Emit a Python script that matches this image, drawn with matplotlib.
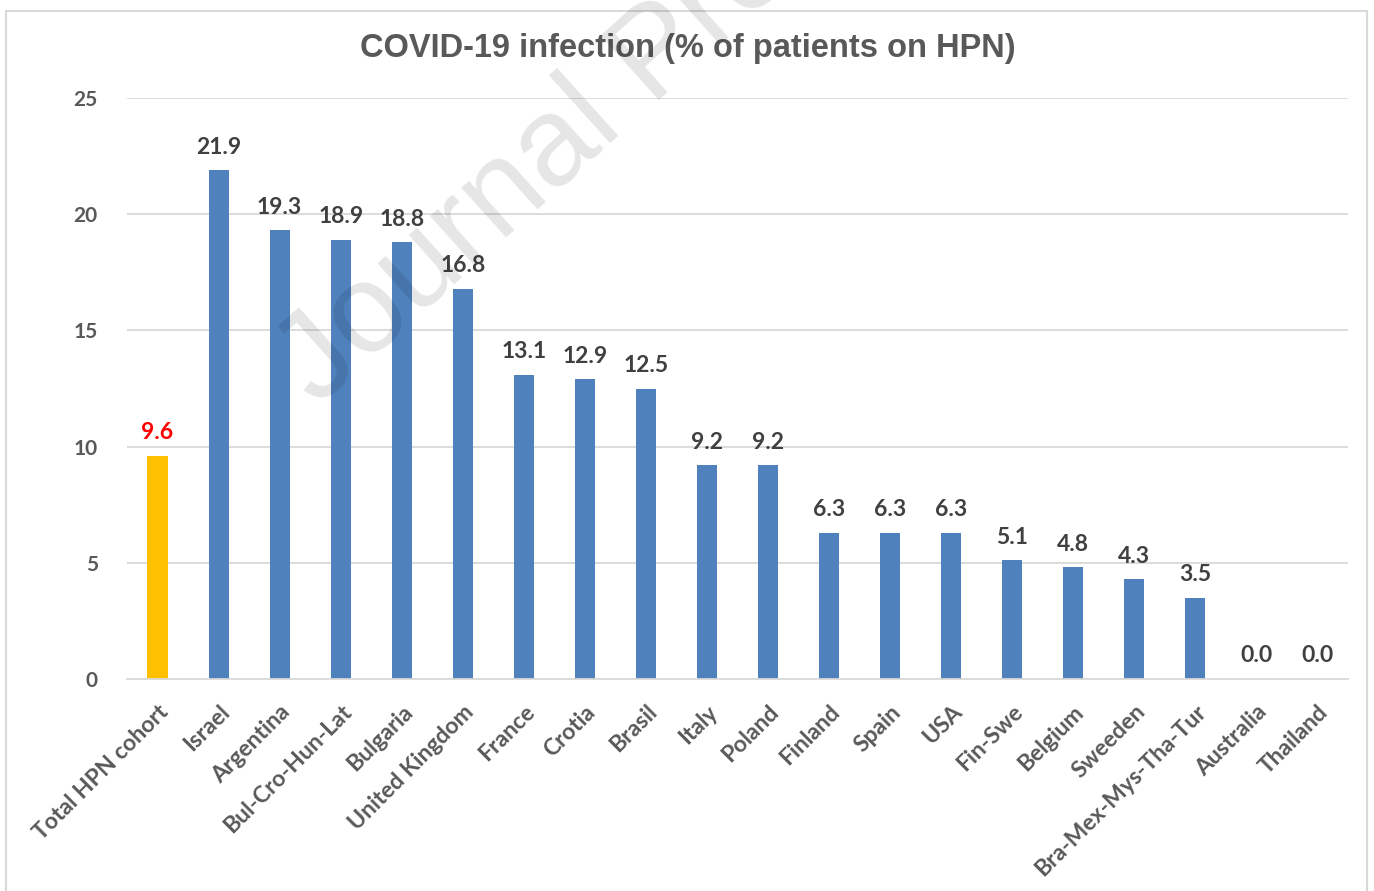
import matplotlib
matplotlib.use("Agg")
import matplotlib.pyplot as plt
from matplotlib.patches import Rectangle

categories = ["Total HPN cohort", "Israel", "Argentina", "Bul-Cro-Hun-Lat", "Bulgaria",
              "United Kingdom", "France", "Crotia", "Brasil", "Italy", "Poland", "Finland",
              "Spain", "USA", "Fin-Swe", "Belgium", "Sweeden", "Bra-Mex-Mys-Tha-Tur",
              "Australia", "Thailand"]
values = [9.6, 21.9, 19.3, 18.9, 18.8, 16.8, 13.1, 12.9, 12.5, 9.2, 9.2, 6.3, 6.3, 6.3,
          5.1, 4.8, 4.3, 3.5, 0.0, 0.0]
yticks = [0, 5, 10, 15, 20, 25]

W, H = 1374, 891
fig = plt.figure(figsize=(W / 100, H / 100), dpi=100)
fig.patch.set_facecolor("white")

# outer chart frame
fig.add_artist(Rectangle((6 / W, -0.01), (1367 - 6) / W, 1 - 11 / H + 0.01,
                         transform=fig.transFigure, fill=False, edgecolor="#d9d9d9", lw=1.5))

ax = fig.add_axes([127 / W, 1 - 679 / H, (1348 - 127) / W, (679 - 98) / H])

lbl_font = ["Lato", "DejaVu Sans"]
colors = ["#FFC000"] + ["#4F81BD"] * (len(values) - 1)
x = list(range(len(categories)))
bars = ax.bar(x, values, width=0.33, color=colors, zorder=3)

ax.set_xlim(-0.5, len(categories) - 0.5)
ax.set_ylim(0, 25)
ax.set_yticks(yticks)
ax.set_yticklabels([str(t) for t in yticks], fontsize=15, fontweight="bold",
                   color="#595959", family=lbl_font)
ax.yaxis.grid(True, color="#d9d9d9", lw=1.3, zorder=0)
ax.set_xticks(x)
ax.set_xticklabels(categories, rotation=45, ha="right", rotation_mode="anchor",
                   fontsize=16.5, fontweight="bold", color="#595959", family=lbl_font)
ax.tick_params(axis="both", length=0)
ax.tick_params(axis="y", pad=21)
ax.tick_params(axis="x", pad=16)
for s in ["top", "right", "left"]:
    ax.spines[s].set_visible(False)
ax.spines["bottom"].set_color("#d9d9d9")
ax.spines["bottom"].set_linewidth(1.3)
ax.spines["bottom"].set_zorder(4)

for i, (b, v) in enumerate(zip(bars, values)):
    ax.annotate(f"{v:.1f}", (b.get_x() + b.get_width() / 2, v), xytext=(0, 9),
                textcoords="offset points", ha="center", va="bottom",
                fontsize=16.5, fontweight="bold", family=lbl_font,
                color="#FF0000" if i == 0 else "#404040", zorder=5)

fig.text(688 / W, 1 - 48 / H, "COVID-19 infection (% of patients on HPN)",
         ha="center", va="center", fontsize=23.5, fontweight="bold",
         color="#595959", family=["Liberation Sans", "DejaVu Sans"])

# watermark (semi-transparent, on top)
fig.text(318 / W, 1 - 408 / H, "Journal Pre-proof", rotation=42, ha="left", va="baseline",
         fontsize=91, color="black", alpha=0.1, family=["Liberation Sans", "DejaVu Sans"],
         rotation_mode="anchor", zorder=10)

fig.savefig("out.png", dpi=100)
